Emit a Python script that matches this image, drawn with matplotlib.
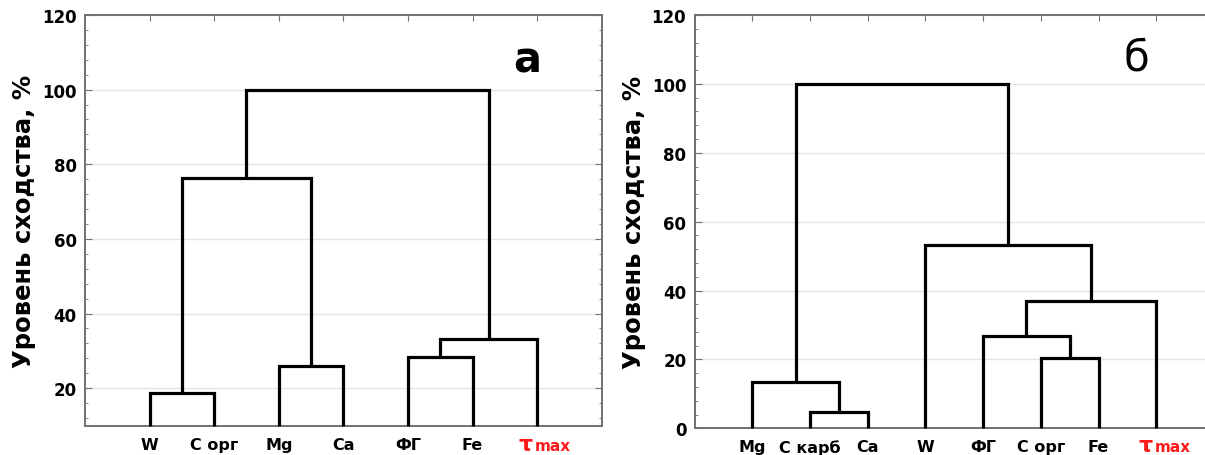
import numpy as np
import matplotlib.pyplot as plt
from matplotlib.ticker import MultipleLocator

plt.rcParams['font.family'] = ['DejaVu Sans']

# panel а: leaves (left to right) and merges (child, child, similarity level %)
leaves_a = ['W', 'С орг', 'Mg', 'Ca', 'ФГ', 'Fe', 'τ max']
merges_a = [(0, 1, 18.7), (2, 3, 25.9), (4, 5, 28.4), (9, 6, 33.3),
            (7, 8, 76.2), (11, 10, 100.0)]

# panel б
leaves_b = ['Mg', 'С карб', 'Ca', 'W', 'ФГ', 'С орг', 'Fe', 'τ max']
merges_b = [(1, 2, 4.6), (0, 8, 13.5), (5, 6, 20.3), (4, 10, 26.9),
            (11, 7, 37.1), (3, 12, 53.2), (9, 13, 100.0)]

ylabel = 'Уровень сходства, %'


def draw_dendro(ax, leaves, merges, base):
    xs = [i + 1.0 for i in range(len(leaves))]
    hs = [base] * len(leaves)
    for a, b, h in merges:
        ax.plot([xs[a], xs[a], xs[b], xs[b]], [hs[a], h, h, hs[b]],
                color='black', lw=2.3, solid_joinstyle='miter',
                solid_capstyle='butt', zorder=3, clip_on=False)
        xs.append((xs[a] + xs[b]) / 2)
        hs.append(h)


def style_axes(ax, leaves, ymin, letter, letter_xy, tau_y):
    n = len(leaves)
    ax.set_xlim(0, n + 1)
    ax.set_ylim(ymin, 120)
    ax.yaxis.set_major_locator(MultipleLocator(20))
    ax.yaxis.set_minor_locator(MultipleLocator(4))
    ax.grid(axis='y', color='#e4e4e4', lw=1.0, zorder=0)
    ax.set_axisbelow(True)
    for s in ax.spines.values():
        s.set_color('#707070')
        s.set_linewidth(1.4)
    ax.tick_params(axis='y', which='both', direction='in', left=True, right=True,
                   color='#707070', labelsize=12, pad=6)
    ax.tick_params(axis='y', which='major', length=5)
    ax.tick_params(axis='y', which='minor', length=2.5)
    ax.set_xticks(np.arange(1, n + 1))
    ax.set_xticklabels([l if l != 'τ max' else '' for l in leaves])
    ax.tick_params(axis='x', direction='in', bottom=False, top=True, length=4,
                   color='#707070', labelsize=11.5, pad=8)
    for lab in ax.get_yticklabels() + ax.get_xticklabels():
        lab.set_fontweight('bold')
    # red tau label, small "max" beside it, sharing one baseline
    trans = ax.get_xaxis_transform()
    ax.text(n - 0.06, tau_y, 'τ', transform=trans, color='#ff1a1a',
            fontsize=16, fontweight='bold', ha='right', va='baseline')
    ax.text(n - 0.03, tau_y, 'max', transform=trans, color='#ff1a1a',
            fontsize=11, fontweight='bold', ha='left', va='baseline')
    ax.set_ylabel(ylabel, fontsize=17.5, fontweight='bold', labelpad=4)
    ax.text(letter_xy[0], letter_xy[1], letter, fontsize=30,
            fontweight='bold' if letter == 'а' else 'normal',
            ha='center', va='center')


fig = plt.figure(figsize=(12.05, 4.56), dpi=100)
ax1 = fig.add_axes([85 / 1205, 1 - 426.5 / 456, (601.7 - 85) / 1205, (426.5 - 16) / 456])
ax2 = fig.add_axes([694.6 / 1205, 1 - 429.3 / 456, (1214 - 694.6) / 1205, (429.3 - 16) / 456])

draw_dendro(ax1, leaves_a, merges_a, 10)
style_axes(ax1, leaves_a, 10, 'а', (6.84, 108.2), -0.06)

draw_dendro(ax2, leaves_b, merges_b, 0)
style_axes(ax2, leaves_b, 0, 'б', (7.65, 107.8), -0.054)

fig.savefig('out.png', dpi=100)
